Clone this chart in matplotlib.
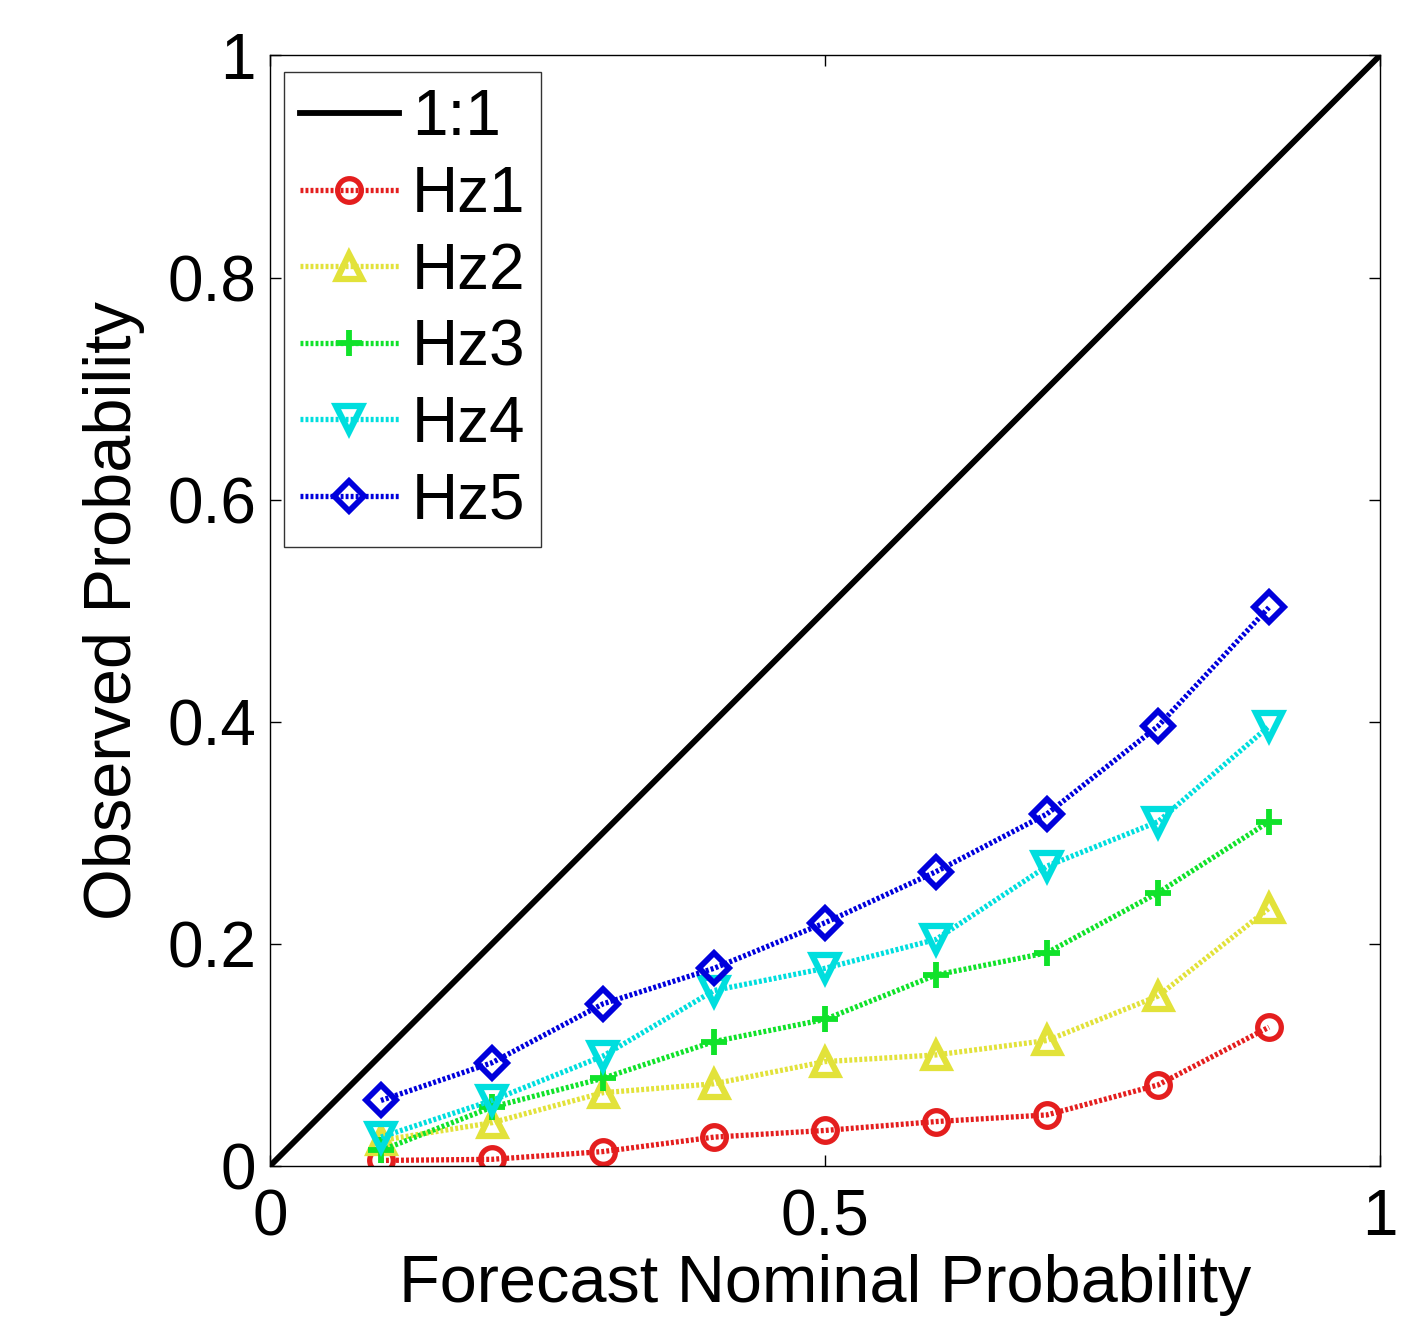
import matplotlib
matplotlib.use("Agg")
import matplotlib.pyplot as plt
import numpy as np

plt.rcParams['font.family'] = ['Liberation Sans', 'DejaVu Sans']

nominal = [0.1, 0.2, 0.3, 0.4, 0.5, 0.6, 0.7, 0.8, 0.9]
hz1 = [0.005, 0.006, 0.013, 0.026, 0.032, 0.040, 0.046, 0.073, 0.125]
hz2 = [0.023, 0.039, 0.066, 0.074, 0.094, 0.100, 0.113, 0.153, 0.232]
hz3 = [0.014, 0.053, 0.079, 0.112, 0.132, 0.172, 0.192, 0.246, 0.310]
hz4 = [0.026, 0.059, 0.099, 0.158, 0.178, 0.204, 0.270, 0.310, 0.396]
hz5 = [0.059, 0.093, 0.146, 0.178, 0.219, 0.265, 0.317, 0.396, 0.503]
series = [("Hz1", hz1), ("Hz2", hz2), ("Hz3", hz3), ("Hz4", hz4), ("Hz5", hz5)]
colors = ["#e41e1e", "#e2e23a", "#10e22a", "#00dede", "#0000dc"]
markers = ["o", "^", "+", "v", "D"]
msizes = [17, 18, 19, 19, 15]
mews = [3.8, 4.5, 4.2, 4.5, 4.2]

fig = plt.figure(figsize=(14.01, 13.19), dpi=100)
ax = fig.add_axes([0.1927, 0.116, 0.7923, 0.842])

ax.plot([0, 1], [0, 1], color="black", lw=4.2, label="1:1")
for (name, vals), c, m, ms, mw in zip(series, colors, markers, msizes, mews):
    ax.plot(nominal, vals, color=c, lw=3.8, linestyle=(0, (0.55, 0.4)),
            marker=m, markersize=ms, markerfacecolor="none",
            markeredgecolor=c, markeredgewidth=mw, label=name)

ax.set_xlim(0, 1)
ax.set_ylim(0, 1)
ax.set_xticks([0, 0.5, 1])
ax.set_xticklabels(["0", "0.5", "1"])
ax.set_yticks([0, 0.2, 0.4, 0.6, 0.8, 1])
ax.set_yticklabels(["0", "0.2", "0.4", "0.6", "0.8", "1"])
ax.tick_params(direction="in", length=8, width=1, top=True, right=True,
               labelsize=46)
ax.tick_params(axis="x", pad=16)
ax.tick_params(axis="y", pad=10)
for s in ax.spines.values():
    s.set_linewidth(1)

ax.set_xlabel("Forecast Nominal Probability", fontsize=48, labelpad=4)
ax.set_ylabel("Observed Probability", fontsize=48, labelpad=16)

leg = ax.legend(loc="upper left", fontsize=46, frameon=True, fancybox=False,
                edgecolor="black", handlelength=1.55, handletextpad=0.2,
                labelspacing=0.26, borderpad=0.25, borderaxespad=0,
                bbox_to_anchor=(0.0126, 0.9847))
leg.get_frame().set_linewidth(1)

fig.savefig("out.png", dpi=100, facecolor="white")
